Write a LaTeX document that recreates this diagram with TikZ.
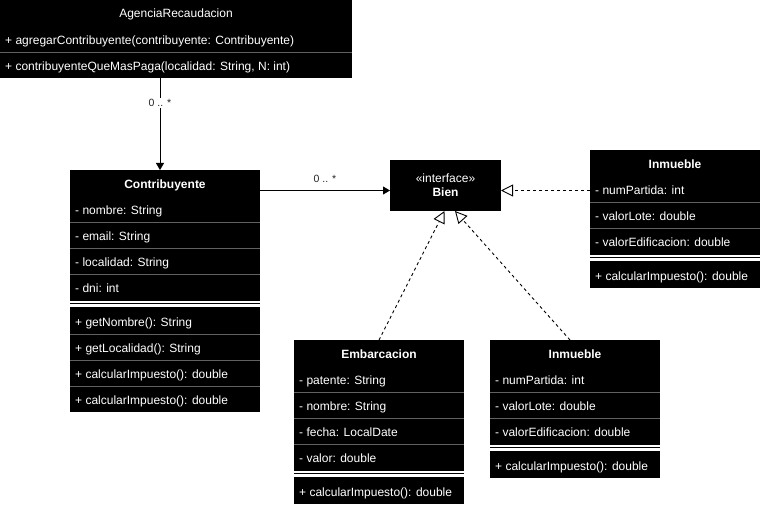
\documentclass[tikz,border=0pt]{standalone}
\usepackage{fontspec}
\setmainfont{Liberation Sans}
\usetikzlibrary{arrows.meta}
\newcommand\umldiv[3]{%
  \fill[white] (#1,#3) rectangle (#2,#3+6.5);
  \draw[black,line width=1.1pt] (#1,#3+3.25) -- (#2,#3+3.25);}
\begin{document}
\begin{tikzpicture}[x=1pt,y=-1pt,
  box/.style={fill=black,inner sep=0pt,outer sep=0pt,anchor=north west},
  row/.style={text=white,font=\fontsize{12}{14}\selectfont,inner sep=0pt,anchor=west,text height=8.6pt,text depth=0pt,yshift=-0.8pt},
  ttl/.style={text=white,font=\fontsize{12}{14}\selectfont\bfseries,inner sep=0pt,text height=8.6pt,text depth=0pt},
  ttlplain/.style={text=white,font=\fontsize{12}{14}\selectfont,inner sep=0pt,text height=8.6pt,text depth=0pt},
  sep/.style={draw=black!62, line width=0.8pt},
  assoc/.style={draw=black, line width=0.9pt, -{Triangle[length=7pt,width=8pt]}},
  realize/.style={draw=black, line width=0.9pt, dash pattern=on 3pt off 3pt, -{Triangle[open,length=12pt,width=12pt,line width=0.9pt]}},
  mult/.style={font=\fontsize{10.5}{12}\selectfont, text=black!85, inner sep=1pt}
]
\useasboundingbox[fill=white] (0,0) rectangle (761,508);

% AgenciaRecaudacion
\node[box,minimum width=352pt,minimum height=78pt] (agencia) at (0,0) {};
\node[ttlplain] (agT) at (176,13) {AgenciaRecaudacion};
\node[row] (ag1) at (5,39) {+ agregarContribuyente(contribuyente: Contribuyente)};
\draw[sep] (0,52) -- (352,52);
\node[row] (ag2) at (5,65) {+ contribuyenteQueMasPaga(localidad: String, N: int)};

% Contribuyente
\node[box,minimum width=190pt,minimum height=242pt] (contrib) at (70,170) {};
\node[ttl] (coT) at (165,184) {Contribuyente};
\node[row] (co1) at (75,209) {- nombre: String};
\draw[sep] (70,222) -- (260,222);
\node[row] (co2) at (75,235) {- email: String};
\draw[sep] (70,248) -- (260,248);
\node[row] (co3) at (75,261) {- localidad: String};
\draw[sep] (70,274) -- (260,274);
\node[row] (co4) at (75,287) {- dni: int};
\umldiv{70}{260}{300.5}
\node[row] (co5) at (75,321.5) {+ getNombre(): String};
\draw[sep] (70,334.5) -- (260,334.5);
\node[row] (co6) at (75,347.5) {+ getLocalidad(): String};
\draw[sep] (70,360.5) -- (260,360.5);
\node[row] (co7) at (75,373.5) {+ calcularImpuesto(): double};
\draw[sep] (70,386.5) -- (260,386.5);
\node[row] (co8) at (75,399.5) {+ calcularImpuesto(): double};

% Bien
\node[box,minimum width=111pt,minimum height=51pt] (bien) at (390,160) {};
\node[ttlplain] (biS) at (445.5,178.5) {«interface»};
\node[ttl] (biT) at (445.5,192.5) {Bien};

% Inmueble (right)
\node[box,minimum width=170pt,minimum height=138pt] (inmA) at (590,150) {};
\node[ttl] (iaT) at (675,164) {Inmueble};
\node[row] (ia1) at (595,189) {- numPartida: int};
\draw[sep] (590,202) -- (760,202);
\node[row] (ia2) at (595,215) {- valorLote: double};
\draw[sep] (590,228) -- (760,228);
\node[row] (ia3) at (595,241) {- valorEdificacion: double};
\umldiv{590}{760}{254.5}
\node[row] (ia4) at (595,275.5) {+ calcularImpuesto(): double};

% Embarcacion
\node[box,minimum width=170pt,minimum height=164pt] (emb) at (294,340) {};
\node[ttl] (emT) at (379,354) {Embarcacion};
\node[row] (em1) at (299,379) {- patente: String};
\draw[sep] (294,392) -- (464,392);
\node[row] (em2) at (299,405) {- nombre: String};
\draw[sep] (294,418) -- (464,418);
\node[row] (em3) at (299,431) {- fecha: LocalDate};
\draw[sep] (294,444) -- (464,444);
\node[row] (em4) at (299,457) {- valor: double};
\umldiv{294}{464}{470.5}
\node[row] (em5) at (299,491.5) {+ calcularImpuesto(): double};

% Inmueble (bottom)
\node[box,minimum width=170pt,minimum height=138pt] (inmB) at (490,340) {};
\node[ttl] (ibT) at (575,354) {Inmueble};
\node[row] (ib1) at (495,379) {- numPartida: int};
\draw[sep] (490,392) -- (660,392);
\node[row] (ib2) at (495,405) {- valorLote: double};
\draw[sep] (490,418) -- (660,418);
\node[row] (ib3) at (495,431) {- valorEdificacion: double};
\umldiv{490}{660}{444.5}
\node[row] (ib4) at (495,465.5) {+ calcularImpuesto(): double};

% connector end points
\coordinate (cTop) at ([xshift=-5pt]contrib.north);
\coordinate (bW) at ([yshift=-5pt]bien.west);
\coordinate (bE) at ([yshift=-5pt]bien.east);
\coordinate (bS1) at ([xshift=-1pt]bien.south);
\coordinate (bS2) at ([xshift=9.5pt]bien.south);
\coordinate (eTop) at (emb.north);
\coordinate (iTop) at ([xshift=-5pt]inmB.north);

% connectors
\draw[assoc] (agencia.south -| cTop) -- node[mult, fill=white, pos=0.27] {0 .. *} (cTop);
\draw[assoc] (contrib.east |- bW) -- node[mult, above=6pt, pos=0.5] {0 .. *} (bW);
\draw[realize] (inmA.west |- bE) -- (bE);
\draw[realize] (eTop) -- (bS1);
\draw[realize] (iTop) -- (bS2);
\end{tikzpicture}
\end{document}
